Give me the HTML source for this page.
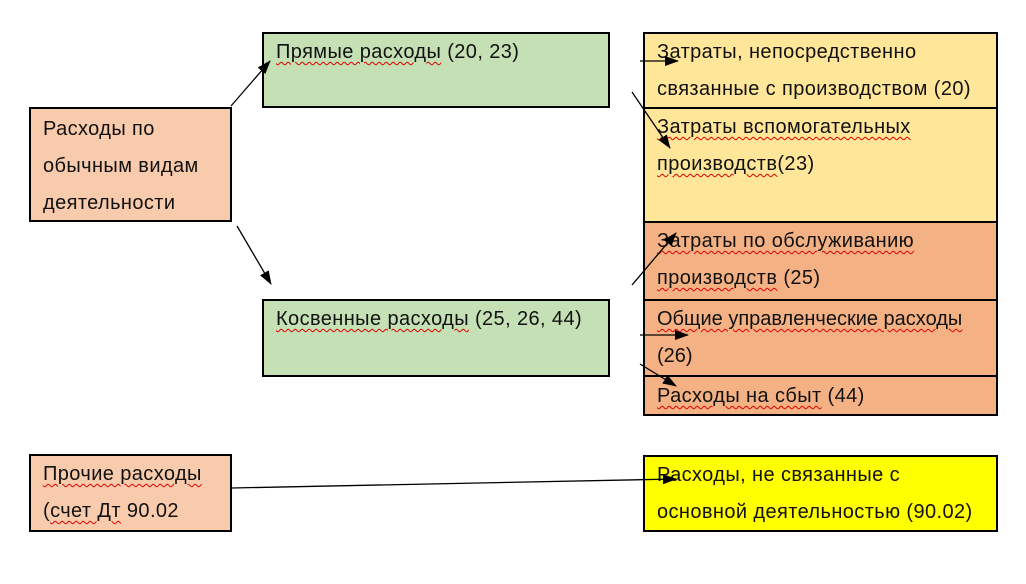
<!DOCTYPE html>
<html><head><meta charset="utf-8"><style>
body{margin:0;width:1026px;height:584px;background:#fff;position:relative;overflow:hidden;font-family:"Liberation Sans","DejaVu Sans",sans-serif;}
.b{position:absolute;box-sizing:border-box;border:2px solid #000;font-size:20px;line-height:37px;color:#111;padding:0 0 0 12px;letter-spacing:0.4px;white-space:nowrap}
.u{text-decoration:underline wavy #d00;text-decoration-thickness:1px;text-underline-offset:3px}
svg{position:absolute;left:0;top:0}
</style></head><body>
<div class="b" style="left:29px;top:107px;width:203px;height:115px;background:#f8cbad;padding-top:2px">Расходы по<br>обычным видам<br>деятельности</div>
<div class="b" style="left:262px;top:32px;width:348px;height:76px;background:#c5e0b4;line-height:36px"><span class="u">Прямые расходы</span> (20, 23)</div>
<div class="b" style="left:262px;top:299px;width:348px;height:78px;background:#c5e0b4"><span class="u">Косвенные расходы</span> (25, 26, 44)</div>
<div class="b" style="left:29px;top:454px;width:203px;height:78px;background:#f8cbad"><span class="u">Прочие расходы</span><br>(<span class="u">счет Дт</span> 90.02</div>
<div class="b" style="left:643px;top:32px;width:355px;height:77px;background:#ffe699;padding-left:12px">Затраты, непосредственно<br>связанные с производством (20)</div>
<div class="b" style="left:643px;top:107px;width:355px;height:116px;background:#ffe699;padding-left:12px"><span class="u">Затраты вспомогательных</span><br><span class="u">производств</span>(23)</div>
<div class="b" style="left:643px;top:221px;width:355px;height:80px;background:#f4b183;padding-left:12px"><span class="u">Затраты по обслуживанию</span><br><span class="u">производств</span> (25)</div>
<div class="b" style="left:643px;top:299px;width:355px;height:78px;background:#f4b183;padding-left:12px;letter-spacing:0"><span class="u">Общие управленческие расходы</span><br>(26)</div>
<div class="b" style="left:643px;top:375px;width:355px;height:41px;background:#f4b183;padding-left:12px;line-height:38px"><span class="u">Расходы на сбыт</span> (44)</div>
<div class="b" style="left:643px;top:455px;width:355px;height:77px;background:#ffff00;padding-left:12px">Расходы, не связанные с<br>основной деятельностью (90.02)</div>
<svg width="1026" height="584">
<defs><marker id="a" markerWidth="14" markerHeight="10" refX="13" refY="5" orient="auto" markerUnits="userSpaceOnUse"><path d="M0,0L14,5L0,10z"/></marker></defs>
<g stroke="#000" stroke-width="1.3" fill="none" marker-end="url(#a)">
<line x1="231" y1="106" x2="270" y2="61"/>
<line x1="237" y1="226" x2="271" y2="284"/>
<line x1="640" y1="61" x2="678" y2="61"/>
<line x1="632" y1="92" x2="670" y2="148"/>
<line x1="632" y1="285" x2="676" y2="233"/>
<line x1="640" y1="335" x2="688" y2="335"/>
<line x1="640" y1="364" x2="676" y2="386"/>
<line x1="232" y1="488" x2="676" y2="479"/>
</g>
</svg>
</body></html>
